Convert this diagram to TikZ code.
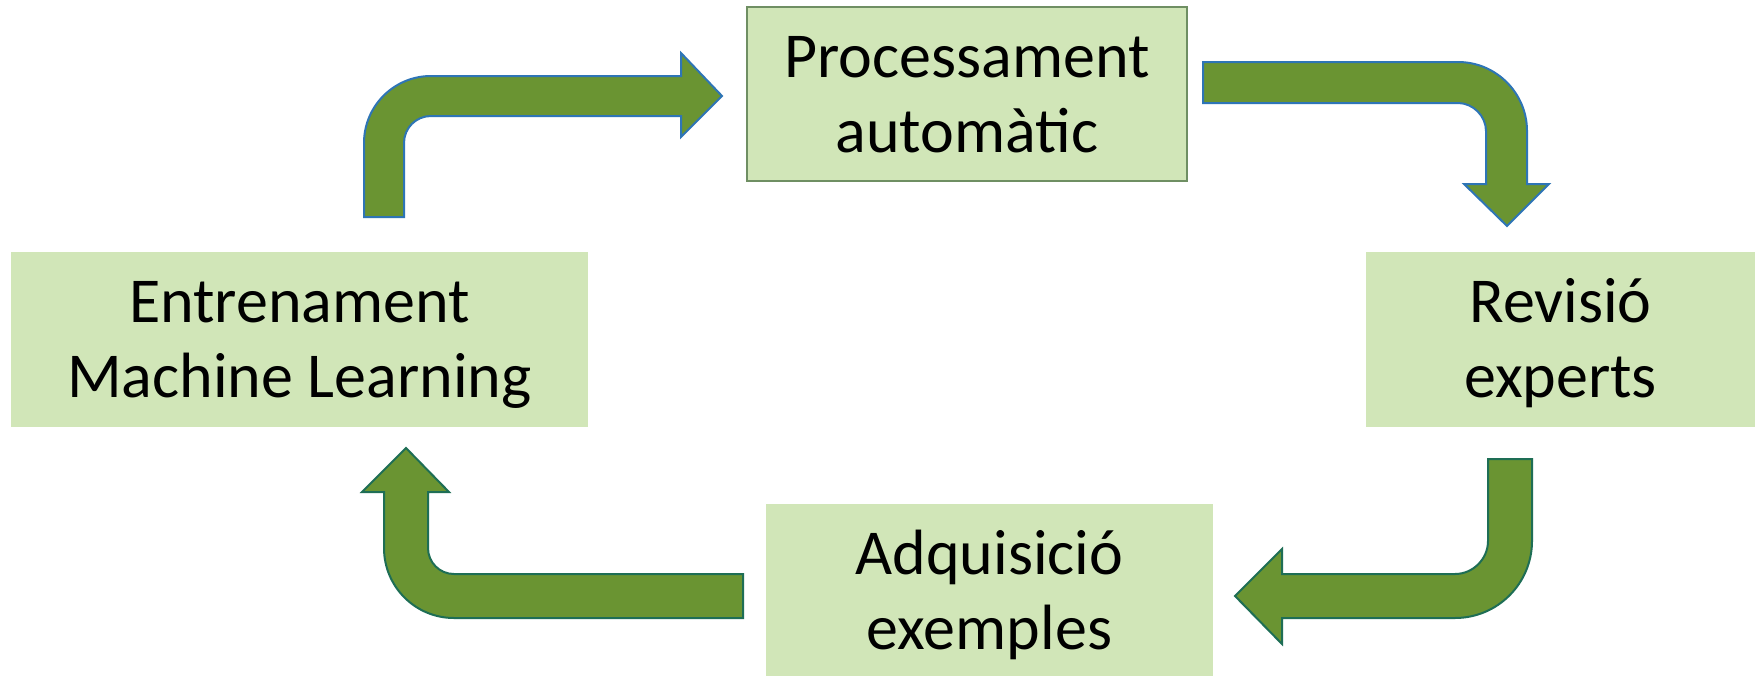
\documentclass[tikz,border=0pt]{standalone}
\usepackage{fontspec}
\setmainfont{Carlito}
\definecolor{boxgreen}{HTML}{D1E6B8}
\definecolor{arrowgreen}{HTML}{6A9432}
\definecolor{blueline}{HTML}{2E75B6}
\definecolor{tealline}{HTML}{1E6E55}
\definecolor{procline}{HTML}{6F8F63}
\newcommand\mystrut{\rule[-14pt]{0pt}{69pt}}
\begin{document}
\begin{tikzpicture}[x=1pt,y=-1pt,
  box/.style={fill=boxgreen, draw=none, inner sep=0pt, align=center,
    font=\fontsize{64pt}{75pt}\selectfont, text=black},
  blockarrowtop/.style={fill=arrowgreen, draw=blueline, line width=2pt, line join=miter},
  blockarrowbot/.style={fill=arrowgreen, draw=tealline, line width=2pt, line join=miter}]
\useasboundingbox (0,0) rectangle (1755,675);
\clip (0,0) rectangle (1755,675);
\fill[white] (0,0) rectangle (1755,675);

% boxes
\node[box, draw=procline, line width=1.5pt, minimum width=440pt, minimum height=174pt] (proc) at (967,94)
  {\mystrut Processament\\\mystrut automàtic};
\node[box, minimum width=389pt, minimum height=175pt] (rev) at (1560.5,339.5)
  {\mystrut Revisió\\\mystrut experts};
\node[box, minimum width=577pt, minimum height=175pt] (ent) at (299.5,339.5)
  {\mystrut Entrenament\\\mystrut Machine Learning};
\node[box, minimum width=447pt, minimum height=175pt] (adq) at (989.5,591)
  {\mystrut Adquisició\\\mystrut exemples};

% arrow: Entrenament -> Processament
\draw[blockarrowtop] (364,217) -- (364,143) .. controls (364,106) and (394,76) .. (431,76)
  -- (681,76) -- (681,53) -- (722,96) -- (681,137) -- (681,116) -- (431,116)
  .. controls (416,116) and (404,128) .. (404,143) -- (404,217) -- cycle;

% arrow: Processament -> Revisio
\draw[blockarrowtop] (1203,62) -- (1458,62) .. controls (1496,62) and (1527,93) .. (1527,131)
  -- (1527,184) -- (1549,184) -- (1507,226) -- (1464,184) -- (1486,184) -- (1486,131)
  .. controls (1486,116) and (1473,103) .. (1458,103) -- (1203,103) -- cycle;

% arrow: Revisio -> Adquisicio
\draw[blockarrowbot] (1488,459) -- (1532,459) -- (1532,541) .. controls (1532,583.5) and (1497.5,618) .. (1455,618)
  -- (1282,618) -- (1282,644) -- (1235,596) -- (1282,549) -- (1282,574) -- (1455,574)
  .. controls (1473,574) and (1488,559) .. (1488,541) -- cycle;

% arrow: Adquisicio -> Entrenament
\draw[blockarrowbot] (743,574) -- (454,574) .. controls (439.6,574) and (428,562.4) .. (428,548)
  -- (428,492) -- (449,492) -- (406,448) -- (362,492) -- (384,492) -- (384,548)
  .. controls (384,586.7) and (415.3,618) .. (454,618) -- (743,618) -- cycle;
\end{tikzpicture}
\end{document}
